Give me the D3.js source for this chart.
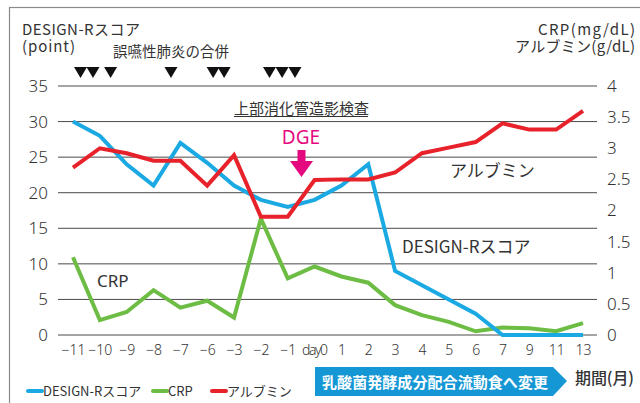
<!DOCTYPE html>
<html lang="ja">
<head>
<meta charset="utf-8">
<script src="https://cdn.jsdelivr.net/npm/d3@7"></script>
<style>
  body { margin: 0; background: #fff; }
  svg text { font-family: "Noto Sans CJK JP", "Noto Sans", sans-serif; fill: #333; }
</style>
</head>
<body>
<svg id="chart" width="640" height="403"></svg>
<script>
// x categories (days / months)
const cats = ["−11","−10","−9","−8","−7","−6","−3","−2","−1","day0","1","2","3","4","5","6","7","9","11","13"]

// DESIGN-R score (left axis, point)
const designR = [30,28,24,21,27,24.2,21,19,18,19,21,24,9,7,5,3,0,0,0,0]
// CRP (right axis, mg/dL)
const crp = [1.25,0.24,0.37,0.72,0.44,0.55,0.28,1.87,0.91,1.1,0.94,0.84,0.48,0.32,0.21,0.06,0.12,0.11,0.06,0.19]
// albumin (right axis, g/dL)
const albumin = [2.69,3.0,2.92,2.8,2.8,2.4,2.89,1.9,1.9,2.49,2.5,2.5,2.61,2.92,3.01,3.1,3.4,3.3,3.3,3.6]

const leftTicks = [0,5,10,15,20,25,30,35]
const rightTicks = [0,0.5,1,1.5,2,2.5,3,3.5,4]
// aspiration pneumonia events, in category-index units
const pneumonia = [0.28,0.745,1.4,3.65,5.22,5.63,7.32,7.79,8.27]

const svg = d3.select("#chart")

// frame
svg.append("rect")
  .attr("x", 9.5).attr("y", 7.5)
  .attr("width", 700).attr("height", 450)
  .attr("fill", "none").attr("stroke", "#8a8a8a").attr("stroke-width", 1.2)

let x = d3.scalePoint().domain(cats).range([73, 583])
let xi = d3.scaleLinear().domain([0, cats.length - 1]).range([73, 583])
let yL = d3.scaleLinear().domain([0, 35]).range([335, 86])
let yR = d3.scaleLinear().domain([0, 4]).range([335, 86])

// grid
svg.append("g").selectAll("line")
  .data(leftTicks)
  .join("line")
  .attr("x1", 58).attr("x2", 597)
  .attr("y1", d => yL(d)).attr("y2", d => yL(d))
  .attr("stroke", "#4a4a4a").attr("stroke-width", 1)

// left axis
let leftAxis = d3.axisLeft(yL).tickValues(leftTicks).tickSize(0).tickPadding(0)
let gL = svg.append("g").attr("transform", "translate(48,0)").call(leftAxis)
gL.select(".domain").remove()
gL.selectAll("text").attr("font-size", 17).attr("fill", "#333")
  .style("font-family", "'Noto Sans', sans-serif").style("font-weight", 300)

// right axis
let rightAxis = d3.axisRight(yR).tickValues(rightTicks).tickSize(0).tickPadding(0)
  .tickFormat(d3.format("~g"))
let gR = svg.append("g").attr("transform", "translate(607,0)").call(rightAxis)
gR.select(".domain").remove()
gR.selectAll("text").attr("font-size", 17).attr("fill", "#333")
  .style("font-family", "'Noto Sans', sans-serif").style("font-weight", 300)

// x axis labels
let xAxis = d3.axisBottom(x).tickSize(0).tickPadding(0)
let gX = svg.append("g").attr("transform", "translate(0,345)").call(xAxis)
gX.select(".domain").remove()
gX.selectAll("text").attr("font-size", 14).attr("fill", "#333")
  .style("font-family", "'Noto Sans', sans-serif").style("font-weight", 300)
  .attr("textLength", d => d === "day0" ? 26 : null)

// series
const series = [
  {values: crp, y: yR, color: "#6dbd45"},
  {values: designR, y: yL, color: "#1aa9e3"},
  {values: albumin, y: yR, color: "#e8222b"}
]
series.forEach(s => {
  let line = d3.line()
    .x((d, i) => x(cats[i]))
    .y(d => s.y(d))
  svg.append("path")
    .datum(s.values)
    .attr("d", line)
    .attr("fill", "none")
    .attr("stroke", s.color)
    .attr("stroke-width", 4)
    .attr("stroke-linejoin", "miter")
})

// axis titles
svg.append("text").attr("x", 22).attr("y", 35).attr("font-size", 15)
  .attr("textLength", 118).text("DESIGN-Rスコア")
svg.append("text").attr("x", 22).attr("y", 52).attr("font-size", 15)
  .attr("textLength", 53).text("(point)")
svg.append("text").attr("x", 538).attr("y", 35).attr("font-size", 15)
  .attr("textLength", 97).text("CRP(mg/dL)")
svg.append("text").attr("x", 515).attr("y", 52).attr("font-size", 15)
  .attr("textLength", 120).text("アルブミン(g/dL)")

// pneumonia markers
svg.append("text").attr("x", 113).attr("y", 57).attr("font-size", 14.5).text("誤嚥性肺炎の合併")
svg.append("g").selectAll("path")
  .data(pneumonia)
  .join("path")
  .attr("d", d => `M${xi(d) - 6.5},67 L${xi(d) + 6.5},67 L${xi(d)},78 Z`)
  .attr("fill", "#111")

// upper GI study
svg.append("text").attr("x", 234).attr("y", 114).attr("font-size", 15).text("上部消化管造影検査")
svg.append("line").attr("x1", 234).attr("x2", 368).attr("y1", 116.5).attr("y2", 116.5)
  .attr("stroke", "#333").attr("stroke-width", 1.2)

// DGE
const dge = "#e5097f"
svg.append("text").attr("x", 301).attr("y", 144).attr("font-size", 19)
  .attr("text-anchor", "middle").style("fill", dge)
  .style("font-family", "'Noto Sans', sans-serif").text("DGE")
svg.append("path")
  .attr("d", "M297.5,150 L305.5,150 L305.5,161 L313,161 L301.5,177 L290,161 L297.5,161 Z")
  .attr("fill", dge)

// series labels
svg.append("text").attr("x", 450).attr("y", 177).attr("font-size", 17).text("アルブミン")
svg.append("text").attr("x", 402).attr("y", 253).attr("font-size", 17).text("DESIGN-Rスコア")
svg.append("text").attr("x", 97).attr("y", 287).attr("font-size", 17)
  .style("font-family", "'Noto Sans', sans-serif").text("CRP")

// legend
const legend = [
  {name: "DESIGN-Rスコア", color: "#1aa9e3", x: 28},
  {name: "CRP", color: "#6dbd45", x: 153},
  {name: "アルブミン", color: "#e8222b", x: 212}
]
let lg = svg.append("g").selectAll("g").data(legend).join("g")
  .attr("transform", d => `translate(${d.x},391)`)
lg.append("line").attr("x1", 0).attr("x2", 14).attr("stroke", d => d.color)
  .attr("stroke-width", 4).attr("stroke-linecap", "round")
lg.append("text").attr("x", 15).attr("y", 5).attr("font-size", 13).text(d => d.name)

// banner
svg.append("path")
  .attr("d", "M315,367 L553,367 L567,381 L553,396 L315,396 Z")
  .attr("fill", "#1697d5")
svg.append("text").attr("x", 322).attr("y", 388).attr("font-size", 15)
  .style("fill", "#fff").style("font-weight", 700).attr("textLength", 226)
  .text("乳酸菌発酵成分配合流動食へ変更")
svg.append("text").attr("x", 575).attr("y", 384).attr("font-size", 16)
  .style("font-weight", 500).attr("textLength", 59).text("期間(月)")
</script>
</body>
</html>
